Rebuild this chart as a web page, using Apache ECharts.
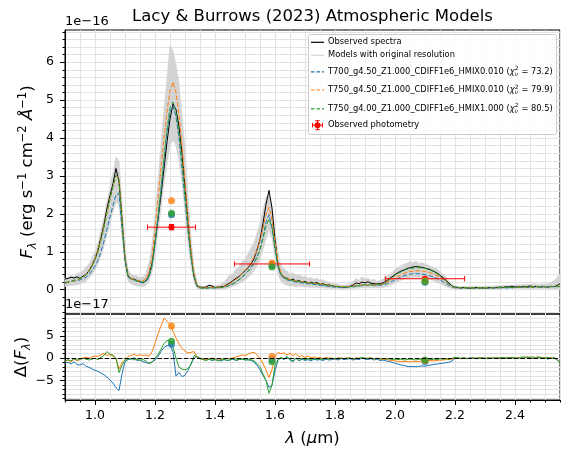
<!DOCTYPE html>
<html><head><meta charset="utf-8">
<script src="https://cdn.jsdelivr.net/npm/echarts@6/dist/echarts.min.js"></script>
<style>html,body{margin:0;padding:0;background:#fff}#c{width:570px;height:458px}</style>
</head><body><div id="c"></div>
<script>
// ---------------- DATA ----------------
const wl = [
0.90,0.91,0.92,0.93,0.94,0.95,0.96,0.97,0.98,0.99,
1.00,1.01,1.02,1.03,1.04,1.05,1.06,1.07,1.08,1.09,
1.10,1.11,1.12,1.13,1.14,1.15,1.16,1.17,1.18,1.19,
1.20,1.21,1.22,1.23,1.24,1.25,1.26,1.27,1.28,1.29,
1.30,1.31,1.32,1.33,1.34,1.35,1.36,1.37,1.38,1.39,
1.40,1.41,1.42,1.43,1.44,1.45,1.46,1.47,1.48,1.49,
1.50,1.51,1.52,1.53,1.54,1.55,1.56,1.57,1.58,1.59,
1.60,1.61,1.62,1.63,1.64,1.65,1.66,1.67,1.68,1.69,
1.70,1.71,1.72,1.73,1.74,1.75,1.76,1.77,1.78,1.79,
1.80,1.81,1.82,1.83,1.84,1.85,1.86,1.87,1.88,1.89,
1.90,1.91,1.92,1.93,1.94,1.95,1.96,1.97,1.98,1.99,
2.00,2.01,2.02,2.03,2.04,2.05,2.06,2.07,2.08,2.09,
2.10,2.11,2.12,2.13,2.14,2.15,2.16,2.17,2.18,2.19,
2.20,2.21,2.22,2.23,2.24,2.25,2.26,2.27,2.28,2.29,
2.30,2.31,2.32,2.33,2.34,2.35,2.36,2.37,2.38,2.39,
2.40,2.41,2.42,2.43,2.44,2.45,2.46,2.47,2.48,2.49,
2.50,2.51,2.52,2.53,2.54,2.55];

// observed spectrum (units of 1e-16 erg/s/cm2/A)
const obsFlux = [
0.28,0.30,0.33,0.31,0.34,0.30,0.36,0.40,0.50,0.64,
0.82,1.05,1.38,1.72,2.15,2.48,2.80,3.20,2.85,1.85,
0.80,0.36,0.30,0.28,0.24,0.22,0.18,0.24,0.38,0.70,
1.25,1.85,2.50,3.20,3.90,4.50,4.90,4.75,4.30,3.60,
2.70,1.80,0.95,0.35,0.09,0.07,0.06,0.07,0.12,0.10,
0.06,0.07,0.08,0.09,0.14,0.18,0.24,0.30,0.35,0.42,
0.50,0.58,0.68,0.82,1.05,1.32,1.75,2.25,2.62,2.15,
1.32,0.65,0.40,0.33,0.30,0.26,0.28,0.22,0.24,0.20,
0.22,0.18,0.20,0.17,0.19,0.14,0.16,0.12,0.13,0.10,
0.09,0.08,0.07,0.06,0.08,0.09,0.12,0.18,0.16,0.20,
0.18,0.21,0.17,0.16,0.15,0.16,0.18,0.22,0.28,0.34,
0.40,0.45,0.49,0.52,0.56,0.58,0.60,0.61,0.60,0.59,
0.57,0.55,0.52,0.48,0.44,0.38,0.32,0.25,0.17,0.10,
0.07,0.06,0.05,0.06,0.05,0.04,0.05,0.06,0.05,0.05,
0.04,0.05,0.06,0.05,0.06,0.07,0.06,0.08,0.07,0.09,
0.07,0.08,0.07,0.09,0.08,0.10,0.08,0.09,0.07,0.08,
0.08,0.07,0.09,0.08,0.11,0.16];

// model T700_g4.50 (blue)
const modelBlue = [
0.17,0.19,0.21,0.23,0.24,0.26,0.29,0.33,0.40,0.50,
0.62,0.78,1.00,1.28,1.60,1.92,2.22,2.50,2.55,1.60,
0.78,0.34,0.28,0.26,0.22,0.20,0.19,0.22,0.33,0.62,
1.20,1.90,2.62,3.40,4.15,4.70,4.85,4.55,4.00,3.20,
2.35,1.55,0.85,0.35,0.10,0.05,0.04,0.04,0.05,0.05,
0.05,0.05,0.06,0.07,0.09,0.12,0.16,0.21,0.27,0.34,
0.42,0.50,0.60,0.72,0.88,1.08,1.40,1.78,1.98,1.62,
1.05,0.60,0.38,0.30,0.26,0.24,0.22,0.20,0.19,0.18,
0.17,0.16,0.15,0.14,0.13,0.12,0.11,0.10,0.09,0.08,
0.07,0.07,0.06,0.06,0.06,0.07,0.08,0.09,0.10,0.11,
0.12,0.12,0.12,0.12,0.12,0.12,0.13,0.15,0.18,0.22,
0.26,0.30,0.34,0.37,0.39,0.41,0.42,0.42,0.42,0.41,
0.40,0.38,0.36,0.33,0.30,0.26,0.21,0.16,0.11,0.07,
0.05,0.04,0.04,0.04,0.04,0.04,0.04,0.04,0.04,0.04,
0.04,0.04,0.04,0.05,0.05,0.05,0.05,0.05,0.05,0.05,
0.06,0.06,0.06,0.06,0.06,0.06,0.07,0.07,0.07,0.07,
0.07,0.07,0.08,0.08,0.08,0.08];

// model T750_g4.50 (orange)
const modelOrange = [
0.18,0.20,0.22,0.24,0.26,0.28,0.33,0.40,0.50,0.64,
0.82,1.05,1.35,1.68,2.05,2.40,2.72,3.00,2.95,1.85,
0.85,0.38,0.30,0.28,0.25,0.23,0.23,0.30,0.48,0.85,
1.58,2.40,3.20,4.00,4.70,5.25,5.48,5.20,4.60,3.80,
2.85,1.90,1.05,0.45,0.12,0.06,0.05,0.05,0.06,0.06,
0.06,0.07,0.08,0.09,0.12,0.16,0.21,0.27,0.34,0.42,
0.51,0.60,0.72,0.86,1.05,1.30,1.62,1.98,2.18,1.85,
1.25,0.72,0.45,0.34,0.29,0.27,0.25,0.23,0.22,0.21,
0.20,0.19,0.18,0.17,0.16,0.15,0.14,0.13,0.12,0.11,
0.10,0.09,0.08,0.08,0.08,0.09,0.10,0.11,0.12,0.13,
0.13,0.13,0.13,0.13,0.13,0.14,0.15,0.18,0.22,0.27,
0.32,0.36,0.40,0.43,0.46,0.48,0.49,0.50,0.50,0.49,
0.48,0.46,0.44,0.41,0.37,0.33,0.27,0.21,0.14,0.09,
0.06,0.05,0.05,0.05,0.05,0.05,0.05,0.05,0.05,0.05,
0.05,0.05,0.05,0.05,0.05,0.06,0.06,0.06,0.06,0.06,
0.06,0.07,0.07,0.07,0.07,0.07,0.07,0.08,0.08,0.08,
0.08,0.08,0.08,0.09,0.09,0.09];

// model T750_g4.00 (green)
const modelGreen = [
0.19,0.21,0.23,0.25,0.27,0.29,0.33,0.39,0.48,0.61,
0.78,1.00,1.30,1.64,2.02,2.38,2.72,3.02,2.90,1.80,
0.82,0.36,0.28,0.26,0.23,0.21,0.20,0.24,0.36,0.65,
1.22,1.92,2.68,3.48,4.25,4.80,4.95,4.68,4.12,3.35,
2.48,1.62,0.90,0.38,0.11,0.05,0.04,0.04,0.05,0.05,
0.05,0.05,0.06,0.07,0.09,0.12,0.15,0.20,0.26,0.32,
0.40,0.48,0.57,0.68,0.84,1.05,1.35,1.68,1.86,1.65,
1.12,0.62,0.40,0.32,0.28,0.26,0.24,0.22,0.21,0.20,
0.19,0.18,0.17,0.16,0.15,0.14,0.13,0.12,0.11,0.10,
0.09,0.08,0.08,0.07,0.07,0.08,0.09,0.10,0.11,0.12,
0.13,0.13,0.13,0.13,0.13,0.14,0.15,0.20,0.26,0.32,
0.38,0.43,0.47,0.51,0.54,0.56,0.57,0.58,0.58,0.57,
0.56,0.54,0.51,0.47,0.42,0.36,0.29,0.22,0.15,0.10,
0.07,0.06,0.05,0.05,0.05,0.05,0.05,0.05,0.05,0.05,
0.05,0.05,0.05,0.05,0.05,0.06,0.06,0.06,0.06,0.06,
0.06,0.07,0.07,0.07,0.07,0.07,0.07,0.08,0.08,0.08,
0.08,0.08,0.08,0.09,0.09,0.09];

// envelope of the models at original resolution
const bandLow = [
0.08,0.10,0.11,0.12,0.13,0.15,0.18,0.22,0.30,0.40,
0.52,0.68,0.90,1.15,1.45,1.75,2.05,2.30,2.25,1.40,
0.60,0.22,0.15,0.12,0.10,0.08,0.08,0.12,0.22,0.45,
0.90,1.50,2.10,2.80,3.30,3.80,3.95,3.80,3.40,2.80,
2.00,1.20,0.60,0.20,0.03,0.01,0.01,0.01,0.02,0.01,
0.01,0.01,0.02,0.02,0.04,0.06,0.09,0.12,0.16,0.20,
0.26,0.32,0.40,0.50,0.62,0.80,1.05,1.35,1.55,1.35,
0.85,0.40,0.22,0.15,0.12,0.10,0.10,0.08,0.09,0.08,
0.07,0.07,0.06,0.06,0.05,0.05,0.05,0.04,0.04,0.03,
0.03,0.03,0.02,0.02,0.02,0.03,0.03,0.04,0.04,0.05,
0.05,0.05,0.05,0.05,0.05,0.05,0.06,0.08,0.10,0.14,
0.18,0.22,0.25,0.28,0.30,0.32,0.33,0.32,0.33,0.32,
0.30,0.28,0.26,0.23,0.20,0.16,0.12,0.08,0.05,0.03,
0.02,0.02,0.02,0.02,0.02,0.02,0.02,0.02,0.02,0.02,
0.02,0.02,0.02,0.02,0.02,0.02,0.03,0.03,0.03,0.03,
0.03,0.03,0.03,0.03,0.03,0.03,0.03,0.03,0.03,0.03,
0.03,0.02,0.03,0.02,0.02,0.00];
const bandHigh = [
0.30,0.32,0.38,0.34,0.42,0.45,0.50,0.60,0.68,0.85,
1.02,1.25,1.58,1.92,2.35,2.72,3.10,3.50,3.40,2.35,
1.10,0.55,0.42,0.38,0.36,0.33,0.34,0.45,0.72,1.20,
2.00,2.90,3.85,4.80,5.60,6.45,6.30,5.95,5.45,4.60,
3.70,2.50,1.40,0.60,0.20,0.10,0.09,0.10,0.13,0.11,
0.10,0.12,0.15,0.20,0.30,0.40,0.42,0.55,0.60,0.75,
0.80,0.95,1.10,1.25,1.50,1.75,2.10,2.45,2.50,2.20,
1.60,0.95,0.65,0.55,0.50,0.42,0.45,0.38,0.40,0.34,
0.36,0.30,0.32,0.28,0.30,0.25,0.27,0.22,0.20,0.18,
0.16,0.15,0.13,0.12,0.14,0.16,0.22,0.30,0.25,0.35,
0.28,0.30,0.25,0.28,0.22,0.25,0.28,0.35,0.40,0.45,
0.55,0.60,0.62,0.68,0.70,0.75,0.72,0.76,0.70,0.72,
0.68,0.66,0.62,0.58,0.55,0.48,0.40,0.32,0.22,0.15,
0.10,0.09,0.08,0.09,0.08,0.08,0.09,0.10,0.09,0.08,
0.09,0.10,0.09,0.10,0.11,0.10,0.12,0.11,0.12,0.13,
0.12,0.14,0.13,0.14,0.15,0.14,0.16,0.15,0.14,0.16,
0.15,0.16,0.20,0.24,0.32,0.42];

// residuals model - observed (units of 1e-17)
const residBlue = [
-1.1,-0.9,-1.3,-0.8,-1.4,-1.5,-1.2,-1.8,-2.0,-2.4,
-2.7,-2.9,-3.3,-3.7,-4.2,-4.9,-5.5,-6.6,-7.2,-3.5,
-0.8,-0.3,-0.2,0.1,-0.5,-0.4,-0.8,-1.0,-1.1,-0.8,
-0.4,0.4,1.5,2.4,2.8,3.0,1.4,-4.0,-3.2,-4.1,
-3.8,-2.7,-1.2,0.0,0.4,0.0,-0.3,-0.4,-0.2,-0.5,
-0.3,-0.4,-0.6,-0.3,-0.5,-0.4,-0.2,-0.5,-0.3,-0.2,
-0.4,-0.3,-0.5,-0.8,-1.6,-2.6,-3.8,-5.0,-6.5,-6.0,
-2.8,-0.4,0.1,-0.3,0.3,-0.4,-0.8,0.0,-0.6,-0.2,
-0.5,-0.3,-0.6,-0.2,-0.4,-0.3,-0.5,-0.2,-0.4,-0.3,
-0.2,-0.4,-0.1,-0.3,-0.2,-0.1,-0.4,-0.2,-0.3,0.0,
-0.2,-0.3,-0.1,-0.4,-0.2,-0.5,-0.4,-0.6,-0.7,-0.9,
-1.1,-1.3,-1.5,-1.6,-1.8,-1.9,-1.8,-1.9,-1.8,-1.7,
-1.8,-1.6,-1.5,-1.4,-1.3,-1.2,-1.1,-1.0,-0.9,-0.6,
0.0,0.1,-0.1,0.0,-0.1,0.1,0.0,-0.1,0.0,0.1,
0.0,-0.1,0.0,0.0,0.1,-0.1,0.0,0.1,0.2,0.0,
-0.1,0.1,0.2,0.0,0.3,0.1,-0.1,0.2,0.3,0.0,
0.1,-0.2,0.2,0.0,-0.4,-1.0];
const residOrange = [
-0.7,-0.4,-0.9,-0.2,-0.5,-0.3,0.1,0.2,0.0,0.3,
0.5,0.4,0.8,1.1,0.6,0.8,0.5,0.0,-2.4,-1.0,
-0.3,0.4,0.6,0.9,0.5,0.8,0.6,0.7,0.4,1.5,
3.3,5.4,7.2,8.9,8.3,7.6,6.0,4.5,3.2,2.2,
1.6,1.2,1.3,1.5,0.2,-0.1,0.0,-0.3,-0.2,0.1,
-0.2,-0.1,-0.3,-0.2,0.0,-0.1,0.1,0.3,0.5,0.7,
0.6,0.9,1.2,1.3,0.8,0.0,-1.2,-2.6,-4.3,-2.5,
0.4,1.3,1.0,1.2,0.7,1.1,0.6,1.0,0.3,0.6,
0.2,0.5,0.1,0.3,0.0,0.2,-0.1,0.2,0.0,0.1,
-0.2,0.1,0.0,-0.1,0.1,0.0,-0.2,0.1,0.0,0.2,
-0.1,0.1,0.0,-0.2,0.0,-0.1,-0.3,-0.2,-0.4,-0.5,
-0.6,-0.7,-0.7,-0.8,-0.7,-0.8,-0.7,-0.8,-0.7,-0.6,
-0.7,-0.6,-0.5,-0.6,-0.5,-0.4,-0.4,-0.3,-0.3,-0.2,
0.1,0.0,-0.1,0.1,0.0,-0.1,0.1,0.0,0.0,0.1,
-0.1,0.0,0.1,0.0,0.1,0.0,0.1,0.0,0.2,0.1,
0.0,0.2,0.1,0.1,0.3,0.2,0.0,0.2,0.3,0.1,
0.1,-0.1,0.2,0.1,-0.3,-1.0];
const residGreen = [
-0.7,-0.3,-0.6,-0.1,-0.4,-0.3,0.0,-0.2,-0.4,-0.2,
0.0,-0.3,0.2,0.6,1.5,0.9,0.7,0.0,-3.2,-1.6,
-0.4,-0.3,0.0,-0.4,-0.2,-0.5,-0.3,-0.6,-1.2,-0.9,
0.0,0.8,2.0,3.3,3.9,4.1,2.5,0.0,-2.0,-2.4,
-2.6,-2.3,-1.4,0.6,0.4,-0.1,-0.3,-0.5,-0.2,-0.4,
-0.3,-0.6,-0.4,-0.2,-0.5,-0.3,-0.1,-0.4,-0.3,-0.2,
-0.3,-0.4,-0.3,-0.6,-1.2,-1.9,-3.5,-5.0,-7.8,-6.0,
-1.5,-0.3,0.2,-0.2,0.4,-0.3,-0.6,0.1,-0.5,0.0,
-0.3,-0.1,-0.4,0.0,-0.3,-0.1,-0.3,0.0,-0.2,-0.1,
0.0,-0.2,0.1,-0.1,0.0,0.1,-0.2,0.0,-0.1,0.2,
0.0,-0.1,0.1,-0.2,0.0,-0.2,-0.1,-0.2,-0.1,-0.3,
-0.2,-0.3,-0.2,-0.4,-0.3,-0.2,-0.3,-0.4,-0.2,-0.3,
-0.4,-0.2,-0.3,-0.2,-0.3,-0.1,-0.2,-0.1,-0.2,0.0,
0.2,0.1,0.0,0.1,-0.1,0.0,0.1,0.0,0.1,0.0,
0.0,0.1,0.0,0.1,0.0,0.1,0.2,0.0,0.1,0.2,
0.1,0.0,0.2,0.3,0.1,0.2,0.3,0.0,0.2,0.1,
0.0,0.2,-0.1,0.2,-0.3,-1.1];

// photometry (J, H, K)
const photWl = [1.255, 1.590, 2.100];
const photHalfWidth = [0.080, 0.125, 0.132];
const photObs = [1.65, 0.68, 0.29];
const photErr = [0.07, 0.03, 0.02];
const synthBlue = [1.98, 0.64, 0.20];
const synthOrange = [2.35, 0.70, 0.24];
const synthGreen = [2.02, 0.60, 0.22];
const photResidBlue = [3.1, -0.3, -0.7];
const photResidOrange = [7.2, 0.4, -0.5];
const photResidGreen = [3.8, -0.8, -0.4];

// axes / ticks
const X_MIN = 0.9, X_MAX = 2.55;
const xMajorTicks = [1.0, 1.2, 1.4, 1.6, 1.8, 2.0, 2.2, 2.4];
const Y_TOP_MIN = -0.64, Y_TOP_MAX = 6.85;
const yTopMajor = [0, 1, 2, 3, 4, 5, 6];
const yTopMinor = [-0.6,-0.4,-0.2,0,0.2,0.4,0.6,0.8,1,1.2,1.4,1.6,1.8,2,2.2,2.4,2.6,2.8,3,3.2,3.4,3.6,3.8,4,4.2,4.4,4.6,4.8,5,5.2,5.4,5.6,5.8,6,6.2,6.4,6.6,6.8];
const Y_BOT_MIN = -9.3, Y_BOT_MAX = 9.85;
const yBotMajor = [-5, 0, 5];
const yBotMinor = [-9,-8,-7,-6,-5,-4,-3,-2,-1,0,1,2,3,4,5,6,7,8,9];
const zeroLevel = 0;

// texts
const titleText = 'Lacy & Burrows (2023) Atmospheric Models';
const modelNames = ['T700_g4.50_Z1.000_CDIFF1e6_HMIX0.010','T750_g4.50_Z1.000_CDIFF1e6_HMIX0.010','T750_g4.00_Z1.000_CDIFF1e6_HMIX1.000'];
const chi2Values = ['73.2','79.9','80.5'];

// ---------------- CHECK ----------------
[obsFlux,modelBlue,modelOrange,modelGreen,bandLow,bandHigh,residBlue,residOrange,residGreen].forEach((a,k)=>{
  if (a.length !== wl.length) throw new Error('array ' + k + ' length ' + a.length + ' != ' + wl.length);
});

// ---------------- STYLE ----------------
const FONT = 'DejaVu Sans';
const C_BLUE='#1f77b4', C_ORANGE='#ff7f0e', C_GREEN='#2ca02c', C_RED='#ff0000', C_BAND='#d3d3d3';
const GRID_C = '#e2e2e2';
const DASH = [4.6, 2];
const TICK_FS = 12.5, LABEL_FS = 16.5, LEG_FS = 8.3, SMALL_FS = 11.5;

const pts = ys => wl.map((x,i)=>[x, ys[i]]);
const minusFmt = v => (v < 0 ? '\u2212' + Math.abs(v) : String(v));

const richName = {
  n:   {fontSize: LABEL_FS, fontFamily: FONT, lineHeight: 22, color:'#000'},
  it:  {fontSize: LABEL_FS, fontFamily: FONT, fontStyle:'italic', lineHeight: 22, color:'#000'},
  sub: {fontSize: SMALL_FS, fontFamily: FONT, fontStyle:'italic', lineHeight: 13, verticalAlign:'bottom', color:'#000'},
  sup: {fontSize: SMALL_FS, fontFamily: FONT, lineHeight: 13, verticalAlign:'top', color:'#000'}
};

const chart = echarts.init(document.getElementById('c'), null, {renderer:'canvas'});

function xAxisBase(gi) {
  return {gridIndex: gi, type:'value', position:'bottom', min: X_MIN, max: X_MAX, interval: 0.05,
    axisLine:{show:false, onZero:false}, axisTick:{show:false}, axisLabel:{show:false},
    splitLine:{show:true, lineStyle:{color: GRID_C, width: 1}}};
}

const xAxes = [
  xAxisBase(0),
  Object.assign(xAxisBase(1), {axisLine:{show:true, onZero:false, lineStyle:{color:'#000', width:1}},
    axisTick:{show:true, length:2.5, lineStyle:{color:'#000', width:1}}}),
  {gridIndex:1, type:'value', position:'bottom', min:X_MIN, max:X_MAX,
    axisLine:{show:false, onZero:false},
    axisTick:{show:true, length:5, customValues: xMajorTicks, lineStyle:{color:'#000', width:1}},
    axisLabel:{show:true, customValues: xMajorTicks, formatter: v => Number(v).toFixed(1), margin: 9,
      fontSize: TICK_FS, fontFamily: FONT, color:'#000'},
    splitLine:{show:false},
    name: '{it|\u03bb}{n| (}{it|\u03bc}{n|m)}', nameLocation:'middle', nameGap: 28, nameMoveOverlap: false,
    nameTextStyle:{rich: richName, fontSize: LABEL_FS, fontFamily: FONT, color:'#000'}}
];

function yMinorAxis(gi, mn, mx, minor) {
  return {gridIndex: gi, type:'value', position:'left', min: mn, max: mx,
    axisLine:{show:true, onZero:false, lineStyle:{color:'#000', width:1}},
    axisTick:{show:true, length:2.5, customValues: minor, lineStyle:{color:'#000', width:1}},
    axisLabel:{show:false},
    splitLine:{show:true, lineStyle:{color: GRID_C, width:1}}};
}
function yMajorAxis(gi, mn, mx, major, name, gap) {
  return {gridIndex: gi, type:'value', min: mn, max: mx, position:'left',
    axisLine:{show:false, onZero:false},
    axisTick:{show:true, length:5, customValues: major, lineStyle:{color:'#000', width:1}},
    axisLabel:{show:true, customValues: major, formatter: minusFmt, margin: 11,
      fontSize: TICK_FS, fontFamily: FONT, color:'#000'},
    splitLine:{show:false},
    name: name, nameLocation:'middle', nameRotate: 90, nameGap: gap, nameMoveOverlap: false,
    nameTextStyle:{rich: richName, fontSize: LABEL_FS, fontFamily: FONT, color:'#000'}};
}

const yAxes = [
  yMinorAxis(0, Y_TOP_MIN, Y_TOP_MAX, yTopMinor),
  yMajorAxis(0, Y_TOP_MIN, Y_TOP_MAX, yTopMajor,
    '{it|F}{sub|\u03bb}{n| (erg s}{sup|\u22121}{n| cm}{sup|\u22122}{n| }{it|\u00c5}{sup|\u22121}{n|)}', 26),
  yMinorAxis(1, Y_BOT_MIN, Y_BOT_MAX, yBotMinor),
  yMajorAxis(1, Y_BOT_MIN, Y_BOT_MAX, yBotMajor, '{n|\u0394(}{it|F}{sub|\u03bb}{n|)}', 32)
];

const series = [];
// model envelope band (polygon between low and high envelopes)
series.push({name:'Models with original resolution', type:'custom', xAxisIndex:0, yAxisIndex:0, z:1, silent:true,
  data: wl.map((x,i)=>[x, bandLow[i], bandHigh[i]]),
  encode: {x: 0, y: [1, 2]},
  renderItem: (params, api) => {
    if (params.dataIndex !== 0) return null;
    const n = params.dataInsideLength;
    const upper = [], lower = [];
    for (let j = 0; j < n; j++) {
      const x = api.value(0, j);
      upper.push(api.coord([x, api.value(2, j)]));
      lower.push(api.coord([x, api.value(1, j)]));
    }
    const poly = upper.concat(lower.reverse());
    return {type:'polygon', shape:{points: poly}, style:{fill: C_BAND, stroke: C_BAND, lineWidth: 0.5}};
  }});
// observed
series.push({name:'Observed spectra', type:'line', xAxisIndex:0, yAxisIndex:0, data: pts(obsFlux),
  symbol:'none', lineStyle:{color:'#000', width:1}, z:2});
// models
[[modelBlue, C_BLUE],[modelOrange, C_ORANGE],[modelGreen, C_GREEN]].forEach(([arr,c],k)=>{
  series.push({name: modelNames[k], type:'line', xAxisIndex:0, yAxisIndex:0, data: pts(arr), symbol:'none',
    lineStyle:{color:c, width:1, type: DASH}, z:3});
});
// observed photometry with error bars
series.push({name:'Observed photometry', type:'custom', xAxisIndex:0, yAxisIndex:0, z:4,
  data: photWl.map((x,i)=>[x, photObs[i], photHalfWidth[i], photErr[i]]),
  renderItem: (params, api) => {
    const x = api.value(0), y = api.value(1), hx = api.value(2), ey = api.value(3);
    const c = api.coord([x, y]), l = api.coord([x-hx, y]), r = api.coord([x+hx, y]);
    const t = api.coord([x, y+ey]), b = api.coord([x, y-ey]);
    const st = {stroke: C_RED, lineWidth: 1, fill: null};
    const cap = 2.6;
    return {type:'group', children:[
      {type:'line', shape:{x1:l[0], y1:l[1], x2:r[0], y2:r[1]}, style: st},
      {type:'line', shape:{x1:l[0], y1:l[1]-cap, x2:l[0], y2:l[1]+cap}, style: st},
      {type:'line', shape:{x1:r[0], y1:r[1]-cap, x2:r[0], y2:r[1]+cap}, style: st},
      {type:'line', shape:{x1:t[0], y1:t[1], x2:b[0], y2:b[1]}, style: st},
      {type:'line', shape:{x1:t[0]-cap, y1:t[1], x2:t[0]+cap, y2:t[1]}, style: st},
      {type:'line', shape:{x1:b[0]-cap, y1:b[1], x2:b[0]+cap, y2:b[1]}, style: st},
      {type:'circle', shape:{cx:c[0], cy:c[1], r:3}, style:{fill: C_RED}}
    ]};
  }});
// synthetic photometry
[[synthBlue, C_BLUE],[synthOrange, C_ORANGE],[synthGreen, C_GREEN]].forEach(([arr,c])=>{
  series.push({type:'scatter', xAxisIndex:0, yAxisIndex:0, data: photWl.map((x,i)=>[x, arr[i]]),
    symbol:'circle', symbolSize:7, itemStyle:{color:c}, z:5, silent:true});
});
// residuals
[[residBlue, C_BLUE],[residOrange, C_ORANGE],[residGreen, C_GREEN]].forEach(([arr,c],k)=>{
  const s = {type:'line', xAxisIndex:1, yAxisIndex:2, data: pts(arr), symbol:'none',
    lineStyle:{color:c, width:1}, z:2, silent:true};
  if (k === 2) {
    s.markLine = {silent:true, symbol:'none', label:{show:false}, animation:false,
      lineStyle:{color:'#000', width:1, type: DASH}, data:[{yAxis: zeroLevel}], z:6};
  }
  series.push(s);
});
[[photResidBlue, C_BLUE],[photResidOrange, C_ORANGE],[photResidGreen, C_GREEN]].forEach(([arr,c])=>{
  series.push({type:'scatter', xAxisIndex:1, yAxisIndex:2, data: photWl.map((x,i)=>[x, arr[i]]),
    symbol:'circle', symbolSize:7, itemStyle:{color:c}, z:5, silent:true});
});

// ---------------- LEGEND (graphic) ----------------
const mctx = document.createElement('canvas').getContext('2d');
function tw(s, size, style) { mctx.font = (style||'normal') + ' ' + size + 'px "' + FONT + '"'; return mctx.measureText(s).width; }
function txt(s, x, y, size, style) {
  return {type:'text', x: x, y: y, silent:true, z:100,
    style:{text: s, fontSize: size, fontFamily: FONT, fontStyle: style||'normal', fill:'#000',
      align:'left', verticalAlign:'middle'}};
}
const LX = 308.5, LY = 34.5, LW = 248, LH = 100;
const rowY = [42.3, 55.3, 71.8, 90.0, 108.8, 125.2];
const hx0 = 311, hx1 = 324, tx = 328;
const gEls = [];
gEls.push({type:'rect', shape:{x:LX, y:LY, width:LW, height:LH, r:2}, z:99, silent:true,
  style:{fill:'rgba(255,255,255,0.85)', stroke:'#cccccc', lineWidth:1}});
gEls.push({type:'line', shape:{x1:hx0, y1:rowY[0], x2:hx1, y2:rowY[0]}, z:100, style:{stroke:'#000', lineWidth:1.2}});
gEls.push(txt('Observed spectra', tx, rowY[0], LEG_FS));
gEls.push({type:'line', shape:{x1:hx0, y1:rowY[1], x2:hx1, y2:rowY[1]}, z:100, style:{stroke:C_BAND, lineWidth:1}});
gEls.push(txt('Models with original resolution', tx, rowY[1], LEG_FS));
[C_BLUE, C_ORANGE, C_GREEN].forEach((c,k)=>{
  const y = rowY[2+k];
  gEls.push({type:'line', shape:{x1:hx0, y1:y, x2:hx1, y2:y}, z:100, style:{stroke:c, lineWidth:1.2, lineDash:[3.5,2]}});
  const a = modelNames[k] + ' (';
  let x = tx;
  gEls.push(txt(a, x, y, LEG_FS)); x += tw(a, LEG_FS);
  gEls.push(txt('\u03c7', x, y, LEG_FS, 'italic')); x += tw('\u03c7', LEG_FS, 'italic') + 0.3;
  gEls.push(txt('2', x, y - 2.9, 5.8));
  gEls.push(txt('\u03bd', x, y + 2.7, 5.8, 'italic'));
  x += Math.max(tw('2', 5.8), tw('\u03bd', 5.8, 'italic')) + 0.2;
  gEls.push(txt(' = ' + chi2Values[k] + ')', x, y, LEG_FS));
});
{
  const y = rowY[5], cx = 317.5, cap = 2.2;
  const st = {stroke:C_RED, lineWidth:1};
  gEls.push({type:'line', shape:{x1:cx-5, y1:y, x2:cx+5, y2:y}, z:100, style:st});
  gEls.push({type:'line', shape:{x1:cx-5, y1:y-cap, x2:cx-5, y2:y+cap}, z:100, style:st});
  gEls.push({type:'line', shape:{x1:cx+5, y1:y-cap, x2:cx+5, y2:y+cap}, z:100, style:st});
  gEls.push({type:'line', shape:{x1:cx, y1:y-4.5, x2:cx, y2:y+4.5}, z:100, style:st});
  gEls.push({type:'line', shape:{x1:cx-cap, y1:y-4.5, x2:cx+cap, y2:y-4.5}, z:100, style:st});
  gEls.push({type:'line', shape:{x1:cx-cap, y1:y+4.5, x2:cx+cap, y2:y+4.5}, z:100, style:st});
  gEls.push({type:'circle', shape:{cx:cx, cy:y, r:3}, z:100, style:{fill:C_RED}});
  gEls.push(txt('Observed photometry', tx, y, LEG_FS));
}
// offset texts
gEls.push({type:'text', x:65, y:21.5, silent:true, z:100,
  style:{text:'1e\u221216', fontSize:13, fontFamily:FONT, fill:'#000', align:'left', verticalAlign:'middle'}});
gEls.push({type:'text', x:65, y:305, silent:true, z:100,
  style:{text:'1e\u221217', fontSize:13, fontFamily:FONT, fill:'#000', align:'left', verticalAlign:'middle'}});

chart.setOption({
  animation: false,
  backgroundColor: '#ffffff',
  textStyle: {fontFamily: FONT},
  title: {text: titleText, left: 312.5, top: 8, textAlign:'center', padding: 0,
    textStyle:{fontSize: LABEL_FS, fontWeight:'normal', fontFamily: FONT, color:'#000'}},
  grid: [
    {left:65, top:30, width:495, height:284, show:true, borderColor:'#000', borderWidth:1, backgroundColor:'transparent'},
    {left:65, top:314, width:495, height:86, show:true, borderColor:'#000', borderWidth:1, backgroundColor:'transparent'}
  ],
  xAxis: xAxes,
  yAxis: yAxes,
  series: series,
  graphic: {elements: gEls}
});
</script></body></html>
